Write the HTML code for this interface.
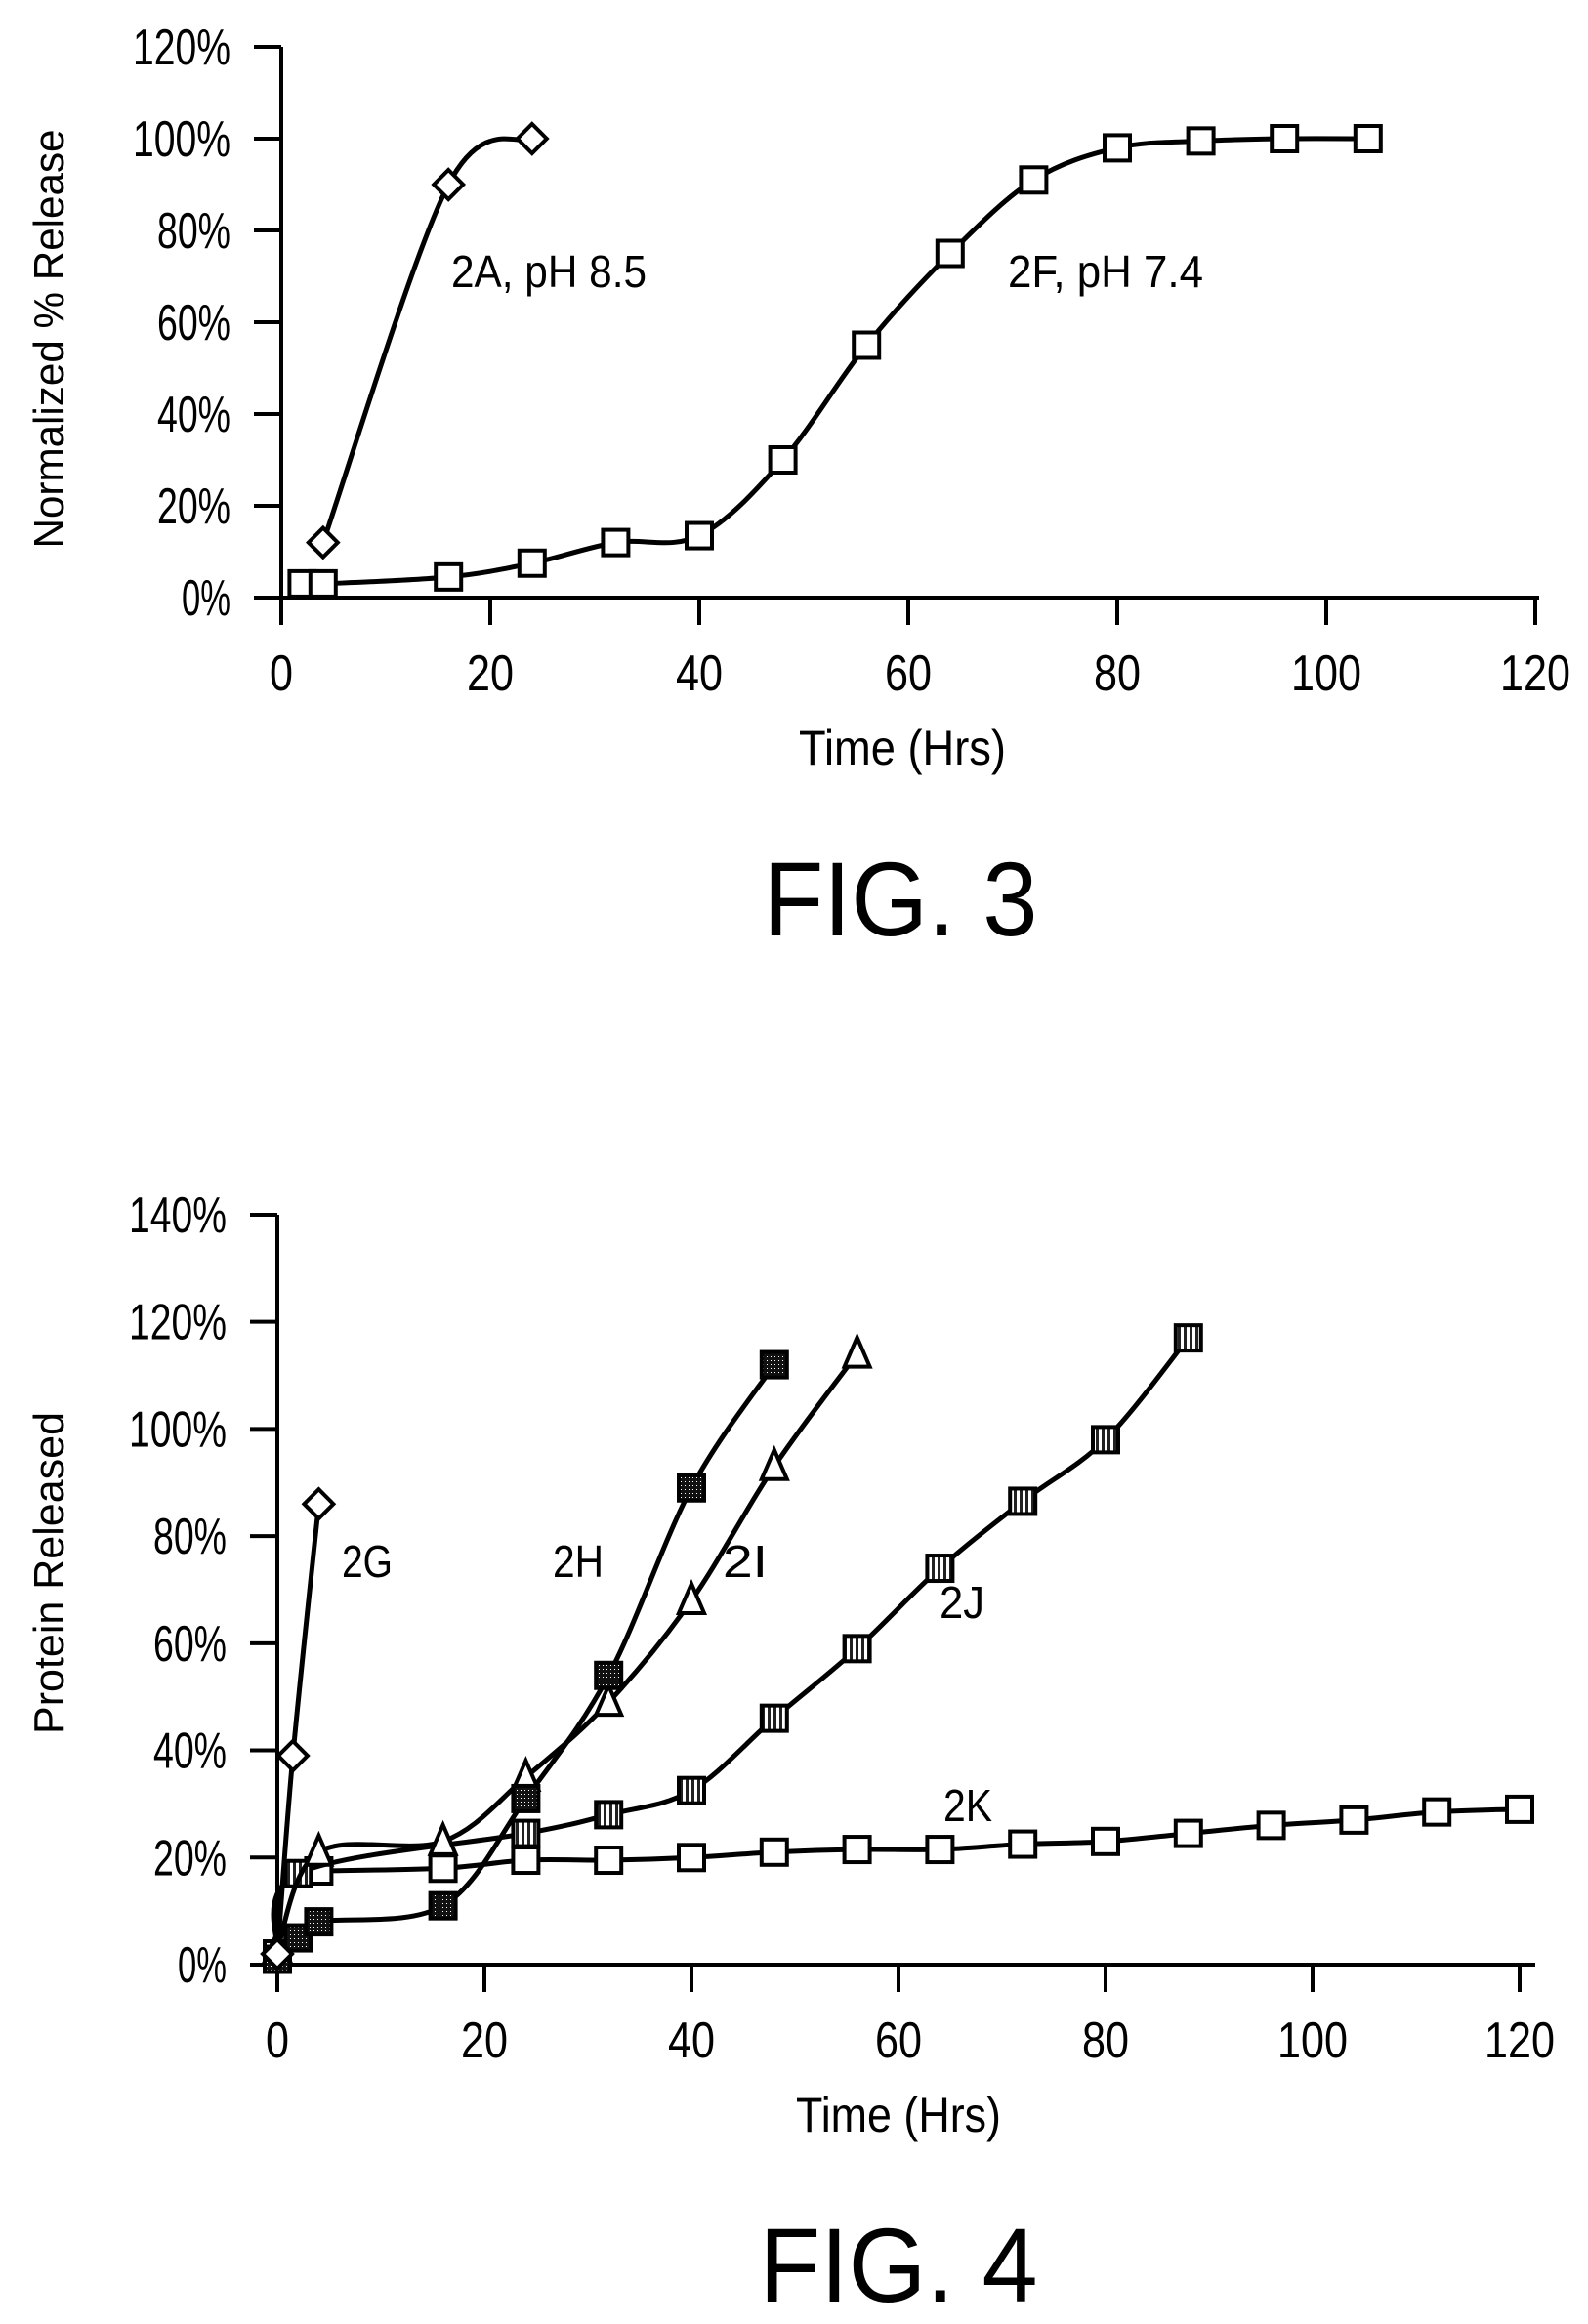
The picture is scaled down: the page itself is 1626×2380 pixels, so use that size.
<!DOCTYPE html>
<html><head><meta charset="utf-8"><style>
html,body{margin:0;padding:0;background:#fff;}
svg{display:block;}
text{font-family:"Liberation Sans",sans-serif;fill:#000;}
</style></head><body>
<svg id="s" width="1626" height="2380" viewBox="0 0 1626 2380" xmlns="http://www.w3.org/2000/svg">
<rect width="1626" height="2380" fill="#fff"/>
<defs>
<pattern id="dk" width="4" height="4" patternUnits="userSpaceOnUse"><rect width="4" height="4" fill="#111"/><rect x="1" y="1" width="1" height="1" fill="#fff"/></pattern>
<pattern id="hz" width="6" height="6" patternUnits="userSpaceOnUse"><rect width="6" height="6" fill="#fff"/><rect width="3" height="6" fill="#222"/></pattern>
</defs>
<g id="g"></g>
<!-- Fig 3 text -->
<text x="50" y="347" font-size="44" text-anchor="middle" transform="rotate(-90 50 347)" dy="15" textLength="429" lengthAdjust="spacingAndGlyphs">Normalized % Release</text>
<text x="924" y="783" font-size="50" text-anchor="middle" textLength="212" lengthAdjust="spacingAndGlyphs">Time (Hrs)</text>
<text x="922" y="958" font-size="108" text-anchor="middle" textLength="281" lengthAdjust="spacingAndGlyphs">FIG. 3</text>
<text x="462" y="294" font-size="46" textLength="200" lengthAdjust="spacingAndGlyphs">2A, pH 8.5</text>
<text x="1032" y="294" font-size="46" textLength="200" lengthAdjust="spacingAndGlyphs">2F, pH 7.4</text>
<!-- Fig 4 text -->
<text x="50" y="1611" font-size="44" text-anchor="middle" transform="rotate(-90 50 1611)" dy="15" textLength="330" lengthAdjust="spacingAndGlyphs">Protein Released</text>
<text x="920" y="2183" font-size="50" text-anchor="middle" textLength="210" lengthAdjust="spacingAndGlyphs">Time (Hrs)</text>
<text x="920" y="2357" font-size="108" text-anchor="middle" textLength="285" lengthAdjust="spacingAndGlyphs">FIG. 4</text>
<text x="350" y="1615" font-size="46" textLength="52" lengthAdjust="spacingAndGlyphs">2G</text>
<text x="566" y="1615" font-size="46" textLength="52" lengthAdjust="spacingAndGlyphs">2H</text>
<text x="740" y="1615" font-size="46" textLength="46" lengthAdjust="spacingAndGlyphs">2I</text>
<text x="962" y="1657" font-size="46" textLength="46" lengthAdjust="spacingAndGlyphs">2J</text>
<text x="966" y="1865" font-size="46" textLength="50" lengthAdjust="spacingAndGlyphs">2K</text>
</svg>
<script>
var NS="http://www.w3.org/2000/svg",G=document.getElementById("g");
function el(t,a,txt){var e=document.createElementNS(NS,t);for(var k in a)e.setAttribute(k,a[k]);if(txt!=null)e.textContent=txt;G.appendChild(e);return e;}
function axes(ox,oy,sx,sy,ymax,xend){
  el("line",{x1:ox,y1:oy-ymax*sy,x2:ox,y2:oy+28,stroke:"#000","stroke-width":4});
  el("line",{x1:ox-28,y1:oy,x2:xend,y2:oy,stroke:"#000","stroke-width":4});
  for(var p=0;p<=ymax;p+=20){var y=oy-p*sy;el("line",{x1:ox-28,y1:y,x2:ox,y2:y,stroke:"#000","stroke-width":4});
    var t=p+"%";el("text",{x:ox-52,y:y+18,"font-size":52,"text-anchor":"end",textLength:t.length*25,lengthAdjust:"spacingAndGlyphs"},t);}
  for(var h=0;h<=120;h+=20){var x=ox+h*sx;el("line",{x1:x,y1:oy,x2:x,y2:oy+28,stroke:"#000","stroke-width":4});
    var s=""+h;el("text",{x:x,y:oy+95,"font-size":52,"text-anchor":"middle",textLength:s.length*24,lengthAdjust:"spacingAndGlyphs"},s);}
}
function smooth(p){
  var d="M"+p[0][0]+","+p[0][1];
  for(var i=0;i<p.length-1;i++){
    var p0=p[i>0?i-1:i],p1=p[i],p2=p[i+1],p3=p[i+2<p.length?i+2:i+1],t=0.25;
    var c1x=p1[0]+(p2[0]-p0[0])*t/1.5,c1y=p1[1]+(p2[1]-p0[1])*t/1.5;
    var c2x=p2[0]-(p3[0]-p1[0])*t/1.5,c2y=p2[1]-(p3[1]-p1[1])*t/1.5;
    d+=" C"+c1x+","+c1y+" "+c2x+","+c2y+" "+p2[0]+","+p2[1];
  }
  return d;
}
function series(ox,oy,sx,sy,d,m,fill){
  var pts=d.map(function(q){return [ox+q[0]*sx,oy-q[1]*sy];});
  el("path",{d:smooth(pts),fill:"none",stroke:"#000","stroke-width":5,"stroke-linejoin":"round"});
  pts.forEach(function(p){var x=p[0],y=p[1],r=13;
    if(m=="sq")el("rect",{x:x-r,y:y-r,width:2*r,height:2*r,fill:fill,stroke:"#000","stroke-width":4});
    else if(m=="di")el("polygon",{points:[x,y-15,x+15,y,x,y+15,x-15,y].join(","),fill:"#fff",stroke:"#000","stroke-width":4});
    else el("polygon",{points:[x,y-17,x+13,y+13,x-13,y+13].join(","),fill:"#fff",stroke:"#000","stroke-width":4});
  });
}
// Fig 3
var a=[288,612,10.7,4.7];
axes(a[0],a[1],a[2],a[3],120,1576);
series(a[0],a[1],a[2],a[3],[[2,3],[4,3],[16,4.5],[24,7.5],[32,12],[40,13.5],[48,30],[56,55],[64,75],[72,91],[80,98],[88,99.5],[96,100],[104,100]],"sq","#fff");
series(a[0],a[1],a[2],a[3],[[4,12],[16,90],[24,100]],"di");
// Fig 4
var b=[284,2012,10.6,5.486];
axes(b[0],b[1],b[2],b[3],140,1572);
series(b[0],b[1],b[2],b[3],[[4,17.5],[16,18],[24,19.5],[32,19.5],[40,20],[48,21],[56,21.5],[64,21.5],[72,22.5],[80,23],[88,24.5],[96,26],[104,27],[112,28.5],[120,29]],"sq","#fff");
series(b[0],b[1],b[2],b[3],[[0,2],[2,17],[24,24.5],[32,28],[40,32.5],[48,46],[56,59],[64,74],[72,86.5],[80,98],[88,117]],"sq","url(#hz)");
series(b[0],b[1],b[2],b[3],[[0,3],[4,21],[16,23],[24,35],[32,49],[40,68],[48,93],[56,114]],"tr");
series(b[0],b[1],b[2],b[3],[[0,1],[2,5],[4,8],[16,11],[24,31],[32,54],[40,89],[48,112]],"sq","url(#dk)");
series(b[0],b[1],b[2],b[3],[[0,2],[1.5,39],[4,86]],"di");
</script>
</body></html>
